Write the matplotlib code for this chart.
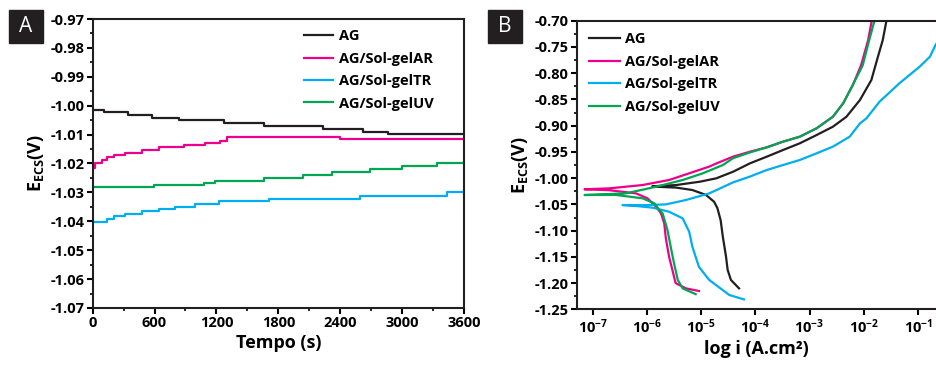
import numpy as np
import matplotlib.pyplot as plt
from matplotlib.patches import Rectangle
from matplotlib.ticker import MultipleLocator, FixedLocator, NullLocator

plt.rcParams['font.family'] = ['Open Sans', 'DejaVu Sans']
plt.rcParams['font.weight'] = 'bold'
plt.rcParams['axes.unicode_minus'] = False
plt.rcParams['mathtext.default'] = 'regular'

labels = ['AG', 'AG/Sol-gelAR', 'AG/Sol-gelTR', 'AG/Sol-gelUV']
colors = ['#231f20', '#ec008c', '#00aeef', '#00a651']

# panel A: open circuit potential vs time (step points)
t_ag = [0, 106, 342, 575, 833, 1270, 1657, 2235, 2623, 2865, 3600]
e_ag = [-1.0015, -1.0023, -1.0032, -1.0041, -1.0050, -1.0060, -1.0070, -1.0080, -1.0090, -1.0098, -1.0098]

t_ar = [0, 26, 90, 139, 203, 316, 478, 640, 882, 1092, 1237, 1300, 2400, 3600]
e_ar = [-1.0216, -1.0200, -1.0187, -1.0178, -1.0170, -1.0162, -1.0153, -1.0144, -1.0136, -1.0130,
        -1.0122, -1.0110, -1.0115, -1.0115]

t_tr = [0, 139, 203, 316, 478, 640, 801, 995, 1221, 1706, 2591, 3431, 3600]
e_tr = [-1.0403, -1.0391, -1.0383, -1.0375, -1.0366, -1.0357, -1.0349, -1.0340, -1.0331, -1.0322,
        -1.0311, -1.0300, -1.0300]

t_uv = [0, 591, 1076, 1189, 1657, 2041, 2316, 2688, 2995, 3334, 3600]
e_uv = [-1.0283, -1.0276, -1.0268, -1.0259, -1.0249, -1.0239, -1.0228, -1.0218, -1.0209, -1.0200, -1.0200]

# panel B: polarisation curves, cathodic end -> E_corr -> anodic end
# (log10 of current density, potential)
logi_ag = [-4.30, -4.45, -4.51, -4.54, -4.60, -4.64, -4.70, -4.76, -4.91, -5.16, -5.46, -5.83, -5.90,
           -5.46, -5.02, -4.72, -4.41, -4.10, -3.79, -3.49, -3.18, -2.87, -2.57, -2.32, -2.07,
           -1.86, -1.74, -1.65, -1.58]
e_ag_b = [-1.210, -1.194, -1.175, -1.150, -1.111, -1.080, -1.057, -1.045, -1.032, -1.0226, -1.018, -1.0163, -1.0155,
          -1.0131, -1.0067, -1.0003, -0.9877, -0.9718, -0.9591, -0.9464, -0.9336, -0.9178, -0.902, -0.883, -0.851,
          -0.813, -0.769, -0.737, -0.699]

logi_ar = [-5.04, -5.28, -5.47, -5.53, -5.59, -5.65, -5.68, -5.74, -5.83, -5.99, -6.20, -6.69, -7.15,
           -6.69, -6.08, -5.59, -5.22, -4.85, -4.72, -4.41, -4.10, -3.79, -3.49, -3.18, -2.87, -2.57,
           -2.38, -2.20, -2.05, -1.92, -1.85]
e_ar_b = [-1.215, -1.210, -1.200, -1.175, -1.150, -1.115, -1.086, -1.067, -1.0544, -1.0384, -1.029, -1.023, -1.0212,
          -1.0194, -1.0131, -1.0035, -0.9908, -0.978, -0.972, -0.959, -0.9496, -0.9413, -0.9305, -0.921, -0.905, -0.883,
          -0.8574, -0.822, -0.785, -0.737, -0.699]

logi_tr = [-4.21, -4.48, -4.85, -5.04, -5.16, -5.22, -5.34, -5.59, -5.89, -6.20, -6.45,
           -6.08, -5.65, -5.28, -4.85, -4.41, -4.10, -3.79, -3.49, -3.18, -2.87, -2.57, -2.26, -2.07,
           -1.95, -1.71, -1.34, -0.97, -0.78, -0.67]
e_tr_b = [-1.231, -1.2226, -1.194, -1.169, -1.131, -1.102, -1.0766, -1.064, -1.0563, -1.053, -1.0512,
          -1.0515, -1.050, -1.0416, -1.029, -1.008, -0.997, -0.9845, -0.975, -0.9654, -0.9527, -0.940, -0.921, -0.8956,
          -0.886, -0.8544, -0.819, -0.7877, -0.7686, -0.745]

logi_uv = [-5.10, -5.34, -5.43, -5.50, -5.56, -5.62, -5.71, -5.77, -5.86, -6.08, -6.57, -7.15,
           -6.39, -5.83, -5.34, -4.97, -4.60, -4.41, -4.10, -3.79, -3.49, -3.18, -2.87, -2.57,
           -2.38, -2.20, -2.02, -1.90, -1.80]
e_uv_b = [-1.221, -1.210, -1.194, -1.162, -1.131, -1.099, -1.067, -1.0607, -1.048, -1.0384, -1.032, -1.0321,
          -1.029, -1.0163, -1.0035, -0.9908, -0.975, -0.962, -0.951, -0.9413, -0.9305, -0.921, -0.905, -0.883,
          -0.8574, -0.822, -0.785, -0.737, -0.699]

decades = [1e-7, 1e-6, 1e-5, 1e-4, 1e-3, 1e-2, 1e-1]

fig = plt.figure(figsize=(9.36, 3.67), dpi=100)
axA = fig.add_axes([0.099, 0.1608, 0.3967, 0.7874])
axB = fig.add_axes([0.6161, 0.157, 0.3839, 0.7866])

for t, e, c, lab in zip([t_ag, t_ar, t_tr, t_uv], [e_ag, e_ar, e_tr, e_uv], colors, labels):
    axA.plot(t, e, color=c, lw=1.6, drawstyle='steps-post', label=lab)

for li, e, c, lab in zip([logi_ag, logi_ar, logi_tr, logi_uv], [e_ag_b, e_ar_b, e_tr_b, e_uv_b], colors, labels):
    axB.plot(10 ** np.array(li), e, color=c, lw=1.6, label=lab)

axA.set_xlim(0, 3600)
axA.set_ylim(-1.07, -0.97)
axA.xaxis.set_major_locator(MultipleLocator(600))
axA.xaxis.set_minor_locator(MultipleLocator(300))
axA.yaxis.set_major_locator(MultipleLocator(0.01))
axA.yaxis.set_minor_locator(MultipleLocator(0.005))
axA.yaxis.set_major_formatter(plt.FormatStrFormatter('%.2f'))
axA.set_xlabel('Tempo (s)', fontsize=13, fontweight='bold', labelpad=3)
axA.set_ylabel('E$_{ECS}$(V)', fontsize=13, fontweight='bold', labelpad=3)

axB.set_xscale('log')
axB.set_xlim(10 ** -7.295, 10 ** -0.668)
axB.set_ylim(-1.25, -0.70)
axB.xaxis.set_major_locator(FixedLocator(decades))
axB.xaxis.set_minor_locator(NullLocator())
axB.yaxis.set_major_locator(MultipleLocator(0.05))
axB.yaxis.set_minor_locator(MultipleLocator(0.025))
axB.yaxis.set_major_formatter(plt.FormatStrFormatter('%.2f'))
axB.set_xlabel('log i (A.cm²)', fontsize=13, fontweight='bold', labelpad=3)
axB.set_ylabel('E$_{ECS}$(V)', fontsize=13, fontweight='bold', labelpad=3)
axB.spines['right'].set_visible(False)

for ax in (axA, axB):
    for s in ax.spines.values():
        s.set_linewidth(1.5)
        s.set_color('#231f20')
    ax.tick_params(which='major', direction='out', length=4, width=1.5, labelsize=10.5, pad=2)
    ax.tick_params(which='minor', direction='out', length=2.5, width=1.2)
    ax.tick_params(top=False, right=False)
    for lbl in ax.get_xticklabels() + ax.get_yticklabels():
        lbl.set_fontweight('bold')

axA.legend(loc='upper left', bbox_to_anchor=(0.541, 1.0), frameon=False, fontsize=10.5,
           handlelength=2.0, handletextpad=0.4, labelspacing=0.58, borderpad=0.2)
axB.legend(loc='upper left', bbox_to_anchor=(0.006, 0.995), frameon=False, fontsize=10.5,
           handlelength=2.1, handletextpad=0.4, labelspacing=0.58, borderpad=0.2)

for x0, letter in [(9, 'A'), (488, 'B')]:
    fig.patches.append(Rectangle((x0 / 936, 1 - 43 / 367), 34 / 936, 33 / 367,
                                 transform=fig.transFigure, color='#231f20'))
    fig.text((x0 + 17) / 936, 1 - 27 / 367, letter, color='white', fontsize=15,
             fontweight='normal', ha='center', va='center')

fig.savefig('out.png', dpi=100)
